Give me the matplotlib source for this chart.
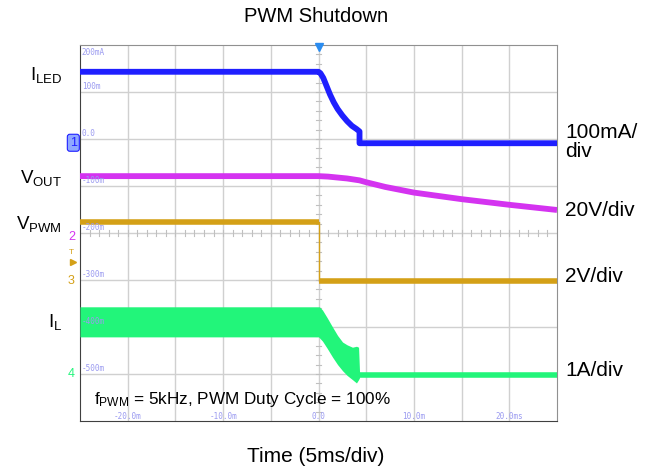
import matplotlib
matplotlib.use("Agg")
import matplotlib.pyplot as plt
import numpy as np

plt.rcParams['font.family'] = ['Liberation Sans', 'DejaVu Sans']
plt.rcParams['mathtext.fontset'] = 'custom'
plt.rcParams['mathtext.rm'] = 'Liberation Sans'

# Scope traces, time in ms, level in screen divisions (0 = centre line)
iled_t = [-25, 0, 0.2, 0.5, 0.8, 1.2, 1.6, 2.0, 2.5, 3.0, 3.5, 4.0, 4.3, 4.3, 25]
iled_div = [3.43, 3.43, 3.4, 3.3, 3.15, 2.95, 2.78, 2.64, 2.5, 2.38, 2.28, 2.21, 2.16, 1.91, 1.91]

vout_t = [-25, 0, 1, 2, 3, 4.3, 5, 7, 10, 15, 20, 25]
vout_div = [1.21, 1.21, 1.2, 1.18, 1.16, 1.12, 1.08, 0.98, 0.86, 0.72, 0.6, 0.49]

vpwm_t = [-25, 0, 0, 25]
vpwm_div = [0.23, 0.23, -1.02, -1.02]

# inductor current: switching envelope until shutdown, then a flat trace
il_band_t = [-25, 0, 0.1, 0.42, 0.9, 1.47, 2.0, 2.52, 3.0, 3.56, 3.98, 4.2, 4.3]
il_band_top = [-1.57, -1.57, -1.57, -1.64, -1.8, -2.0, -2.18, -2.32, -2.38, -2.43, -2.41, -2.43, -2.95]
il_band_bot = [-2.21, -2.21, -2.23, -2.3, -2.45, -2.64, -2.8, -2.93, -3.03, -3.12, -3.19, -3.12, -3.08]
il_t = [4.3, 25]
il_div = [-3.02, -3.02]

# scope graticule labels
level_labels = ['200mA', '100m', '0.0', '-100m', '-200m', '-300m', '-400m', '-500m']
level_pos = [4, 3, 2, 1, 0, -1, -2, -3]
time_labels = ['-20.0m', '-10.0m', '0.0', '10.0m', '20.0ms']
time_pos = [-20, -10, 0, 10, 20]

c_iled = '#1f1fff'
c_vout = '#d433f0'
c_vpwm = '#d4a017'
c_il = '#22f57a'
c_scale = '#9a9af0'

fig = plt.figure(figsize=(6.56, 4.71), dpi=100)
ax = fig.add_axes([80 / 656, 1 - 421 / 471, 477 / 656, 376 / 471])
ax.set_xlim(-25, 25)
ax.set_ylim(-4, 4)
ax.set_xticks([])
ax.set_yticks([])

# graticule
for x in np.arange(-20, 25, 5):
    ax.axvline(x, color='#d0d0d0', lw=1, zorder=0)
for y in np.arange(-3, 4, 1):
    ax.axhline(y, color='#d0d0d0', lw=1, zorder=0)
for x in np.arange(-25, 25.01, 1):
    ax.plot([x, x], [-0.06, 0.06], color='#c0c0c0', lw=0.8, zorder=0)
for y in np.arange(-4, 4.01, 0.2):
    ax.plot([-0.3, 0.3], [y, y], color='#c0c0c0', lw=0.8, zorder=0)
for side in ['top', 'right']:
    ax.spines[side].set_color('#909090')
for side in ['left', 'bottom']:
    ax.spines[side].set_color('#404040')

# traces
ax.plot(iled_t, iled_div, color=c_iled, lw=4.2, solid_capstyle='butt', zorder=3)
ax.plot(vout_t, vout_div, color=c_vout, lw=4.2, solid_capstyle='butt', zorder=3)
ax.plot(vpwm_t, vpwm_div, color=c_vpwm, lw=1, zorder=3)
ax.plot(vpwm_t[:2], vpwm_div[:2], color=c_vpwm, lw=4, solid_capstyle='butt', zorder=3)
ax.plot(vpwm_t[2:], vpwm_div[2:], color=c_vpwm, lw=4, solid_capstyle='butt', zorder=3)
ax.fill_between(il_band_t, il_band_top, il_band_bot, color=c_il, lw=0, zorder=3)
ax.plot(il_t, il_div, color=c_il, lw=4, solid_capstyle='butt', zorder=3)

# scale labels inside graticule
for lab, y in zip(level_labels, level_pos):
    yy = 3.85 if y == 4 else y + 0.12
    ax.text(-24.8, yy, lab, color=c_scale, fontsize=5.5, family='DejaVu Sans Mono',
            va='center', ha='left', zorder=4)
for lab, x in zip(time_labels, time_pos):
    ax.text(x, -3.9, lab, color=c_scale, fontsize=5.5, family='DejaVu Sans Mono',
            va='center', ha='center', zorder=4)

# trigger and ground markers
ax.plot([0], [3.96], marker='v', color='#2a8cf0', ms=6, clip_on=False, zorder=5)
ax.text(-25.7, 1.92, '1', color='#1f1fff', fontsize=9, ha='center', va='center',
        bbox=dict(boxstyle='round,pad=0.2', fc='#8fa8ff', ec='#1f1fff', lw=0.8), clip_on=False)
ax.text(-25.9, -0.08, '2', color=c_vout, fontsize=9, ha='center', va='center', clip_on=False)
ax.text(-25.9, -0.42, 'T', color=c_vpwm, fontsize=6, ha='center', va='center', clip_on=False)
ax.plot([-25.7], [-0.62], marker='>', color=c_vpwm, ms=4, clip_on=False)
ax.text(-25.9, -1.02, '3', color=c_vpwm, fontsize=9, ha='center', va='center', clip_on=False)
ax.text(-25.9, -3.0, '4', color=c_il, fontsize=9, ha='center', va='center', clip_on=False)

ax.text(-23.5, -3.55, r'$\mathrm{f_{PWM}}$ = 5kHz, PWM Duty Cycle = 100%', fontsize=12.3,
        ha='left', va='center', zorder=5)

# labels outside
fig.text(316 / 656, 1 - 17 / 471, 'PWM Shutdown', fontsize=14.5, ha='center', va='center')
fig.text(316 / 656, 1 - 456 / 471, 'Time (5ms/div)', fontsize=15, ha='center', va='center')

left_labels = [r'$\mathrm{I_{LED}}$', r'$\mathrm{V_{OUT}}$', r'$\mathrm{V_{PWM}}$', r'$\mathrm{I_{L}}$']
left_y = [75, 178, 224, 322]
for lab, py in zip(left_labels, left_y):
    fig.text(62 / 656, 1 - py / 471, lab, fontsize=13.5, ha='right', va='center')

right_labels = ['100mA/\ndiv', '20V/div', '2V/div', '1A/div']
right_y = [142, 211, 277, 370]
for lab, py in zip(right_labels, right_y):
    fig.text(565 / 656, 1 - py / 471, lab, fontsize=15, ha='left', va='center', linespacing=1.05)

fig.savefig('out.png', dpi=100, facecolor='white')
